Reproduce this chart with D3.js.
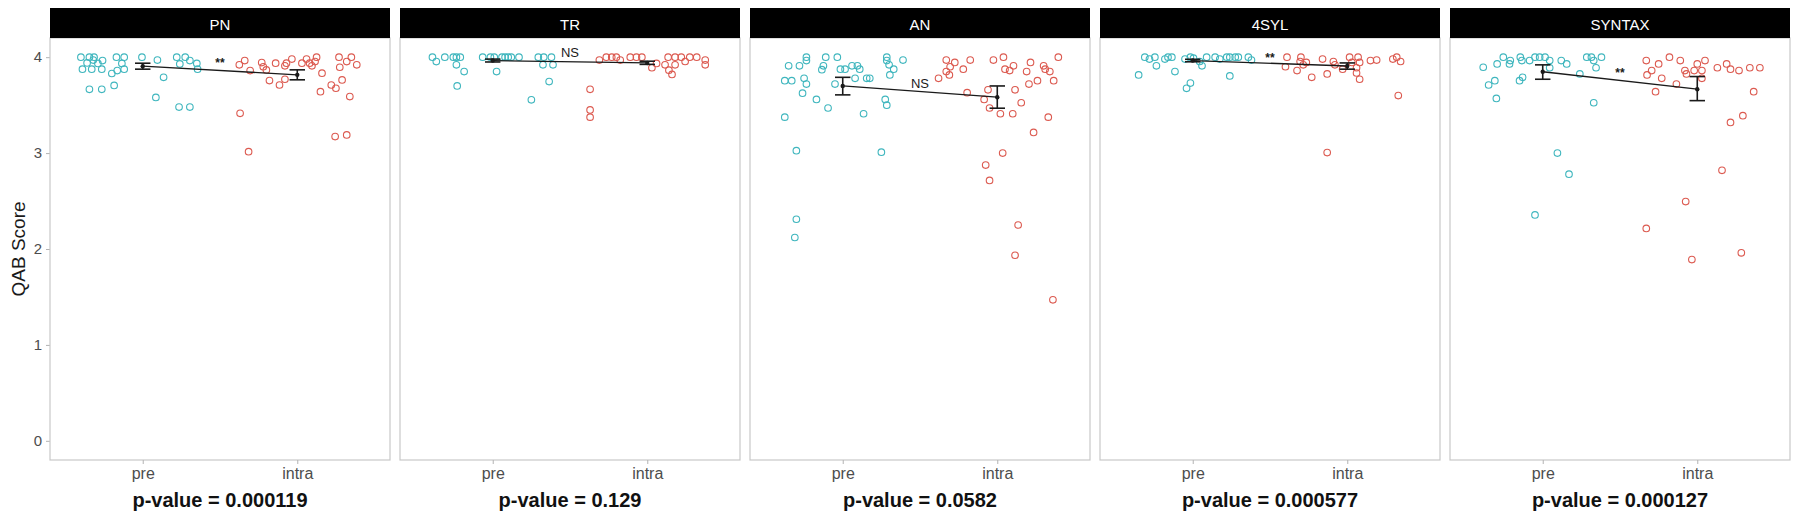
<!DOCTYPE html>
<html>
<head>
<meta charset="utf-8">
<script src="https://cdn.jsdelivr.net/npm/d3@7"></script>
<style>
  body { margin: 0; background: #ffffff; }
  svg { display: block; font-family: "Liberation Sans", Arial, Helvetica, sans-serif; }
</style>
</head>
<body>
<svg id="chart" width="1800" height="520"></svg>
<script>
// ---------------- data ----------------
const facets = ["PN", "TR", "AN", "4SYL", "SYNTAX"];
const groups = ["pre", "intra"];
const yTicks = [0, 1, 2, 3, 4];
const pValueLabels = ["p-value = 0.000119", "p-value = 0.129", "p-value = 0.0582", "p-value = 0.000577", "p-value = 0.000127"];
const sigLabels = ["**", "NS", "NS", "**", "**"];
const sigLabelY = [3.936, 4.05, 3.73, 3.996, 3.833];

const preMean  = [3.906, 3.965, 3.700, 3.965, 3.848];
const preLow   = [3.875, 3.950, 3.607, 3.952, 3.770];
const preHigh  = [3.937, 3.980, 3.790, 3.978, 3.920];
const intraMean = [3.816, 3.940, 3.583, 3.908, 3.666];
const intraLow  = [3.764, 3.925, 3.468, 3.875, 3.547];
const intraHigh = [3.868, 3.958, 3.700, 3.940, 3.798];

// [jitter (category units), QAB score]
const pnPre = [[-0.40,4.00],[-0.345,4.00],[-0.315,4.00],[-0.26,3.965],[-0.39,3.875],[-0.33,3.875],[-0.265,3.875],[-0.20,3.83],[-0.165,3.86],[-0.12,3.875],[-0.17,4.00],[-0.12,4.00],[-0.135,3.935],[-0.345,3.665],[-0.265,3.665],[-0.185,3.705],[-0.005,4.00],[0.095,3.97],[0.135,3.79],[0.085,3.58],[0.22,4.00],[0.275,4.00],[0.24,3.93],[0.305,3.965],[0.35,3.935],[0.355,3.875],[0.235,3.48],[0.305,3.48],[-0.29,3.935],[-0.36,3.94],[-0.32,3.97]];
const pnIntra = [[-0.375,3.92],[-0.34,3.965],[-0.305,3.86],[-0.37,3.415],[-0.315,3.015],[-0.23,3.944],[-0.22,3.90],[-0.18,3.756],[-0.20,3.867],[-0.14,3.937],[-0.115,3.71],[-0.08,3.77],[-0.07,3.937],[-0.035,3.98],[0.03,3.937],[0.06,3.98],[0.095,3.91],[0.125,4.00],[0.115,3.954],[0.16,3.833],[0.15,3.64],[0.22,3.71],[0.25,3.676],[0.29,3.763],[0.245,3.172],[0.32,3.189],[0.27,4.00],[0.35,4.00],[0.385,3.92],[0.34,3.589],[0.32,3.954],[0.275,3.895],[0.08,3.937],[-0.08,3.91]];
const trPre = [[-0.39,4.0],[-0.365,3.954],[-0.31,4.0],[-0.255,4.0],[-0.235,4.0],[-0.21,4.0],[-0.235,3.92],[-0.185,3.85],[-0.23,3.70],[-0.065,4.0],[-0.015,4.0],[0.01,4.0],[0.06,4.0],[0.10,4.0],[0.17,4.0],[0.025,3.85],[0.295,4.0],[0.33,4.0],[0.38,4.0],[0.325,3.92],[0.39,3.92],[0.365,3.746],[0.25,3.555],[0.08,4.0],[0.12,4.0]];
const trIntra = [[-0.31,3.97],[-0.265,4.0],[-0.23,4.0],[-0.20,4.0],[-0.175,3.97],[-0.11,4.0],[-0.07,4.0],[-0.035,4.0],[-0.37,3.665],[-0.37,3.45],[-0.37,3.375],[0.03,3.89],[0.06,3.935],[0.115,3.92],[0.135,4.0],[0.18,4.0],[0.22,4.0],[0.245,3.955],[0.275,4.0],[0.32,4.0],[0.375,3.97],[0.375,3.92],[0.14,3.865],[0.16,3.82],[0.18,3.92]];
const anPre = [[-0.35,3.91],[-0.28,3.91],[-0.235,4.0],[-0.235,3.965],[-0.11,4.0],[-0.035,4.0],[-0.125,3.91],[-0.135,3.87],[-0.015,3.875],[0.015,3.875],[0.06,3.91],[0.095,3.91],[0.11,3.875],[0.285,4.0],[0.285,3.965],[0.39,3.97],[0.30,3.92],[0.33,3.875],[0.305,3.815],[-0.375,3.755],[-0.33,3.755],[-0.25,3.78],[-0.235,3.72],[-0.26,3.625],[-0.17,3.56],[-0.095,3.47],[-0.05,3.72],[0.08,3.78],[0.155,3.78],[0.175,3.78],[0.275,3.56],[0.285,3.50],[0.135,3.41],[-0.375,3.375],[-0.30,3.025],[0.25,3.01],[-0.30,2.31],[-0.31,2.12]];
const anIntra = [[-0.33,3.97],[-0.305,3.90],[-0.275,3.945],[-0.33,3.85],[-0.31,3.815],[-0.38,3.78],[-0.22,3.875],[-0.175,3.97],[-0.025,3.97],[0.04,4.0],[0.05,3.875],[0.105,3.91],[0.08,3.86],[0.19,3.85],[0.215,3.945],[0.30,3.91],[0.31,3.875],[0.34,3.85],[0.395,4.0],[0.365,3.755],[0.26,3.755],[0.205,3.72],[0.115,3.66],[-0.06,3.66],[-0.195,3.63],[-0.085,3.56],[-0.05,3.47],[0.02,3.41],[0.10,3.41],[0.155,3.525],[0.33,3.375],[0.235,3.215],[0.035,3.0],[-0.075,2.875],[-0.05,2.715],[0.135,2.25],[0.115,1.935],[0.36,1.47]];
const sylPre = [[-0.31,4.0],[-0.28,3.98],[-0.245,4.0],[-0.235,3.91],[-0.18,3.98],[-0.16,4.0],[-0.135,4.0],[-0.35,3.815],[-0.115,3.85],[-0.05,3.98],[-0.015,4.0],[0.005,3.99],[0.06,3.91],[0.045,3.955],[0.09,4.0],[0.145,4.0],[0.175,3.98],[0.22,4.0],[0.24,4.0],[0.275,4.0],[0.295,4.0],[0.36,4.0],[0.38,3.97],[0.24,3.805],[-0.04,3.675],[-0.015,3.73]];
const sylIntra = [[-0.39,4.0],[-0.40,3.90],[-0.30,4.0],[-0.305,3.955],[-0.325,3.86],[-0.285,3.92],[-0.265,3.945],[-0.23,3.79],[-0.16,3.98],[-0.13,3.825],[-0.09,3.955],[-0.08,3.92],[-0.03,3.875],[0.015,4.0],[0.07,4.0],[0.03,3.945],[0.08,3.945],[0.06,3.835],[0.08,3.77],[0.06,3.89],[0.15,3.965],[0.19,3.97],[0.295,3.98],[0.32,4.0],[0.345,3.955],[0.33,3.60],[-0.13,3.005]];
const synPre = [[-0.385,3.895],[-0.35,3.71],[-0.31,3.755],[-0.30,3.57],[-0.295,3.93],[-0.255,4.0],[-0.215,3.93],[-0.21,3.965],[-0.145,4.0],[-0.135,3.965],[-0.15,3.755],[-0.13,3.79],[-0.085,3.965],[-0.05,4.0],[-0.02,4.0],[0.015,4.0],[0.045,3.965],[0.045,3.89],[0.12,3.965],[0.155,3.93],[0.24,3.825],[0.285,4.0],[0.315,4.0],[0.33,3.965],[0.38,4.0],[0.345,3.89],[0.33,3.525],[0.095,3.0],[0.17,2.78],[-0.05,2.355]];
const synIntra = [[-0.33,3.965],[-0.325,3.815],[-0.295,3.86],[-0.25,3.93],[-0.18,4.0],[-0.23,3.78],[-0.27,3.64],[-0.135,3.72],[-0.11,3.965],[-0.08,3.86],[-0.07,3.825],[-0.02,3.86],[0.0,3.93],[0.03,3.86],[0.05,3.965],[0.03,3.78],[0.13,3.89],[0.19,3.93],[0.215,3.875],[0.27,3.86],[0.34,3.89],[0.405,3.89],[0.365,3.64],[0.215,3.32],[0.295,3.39],[0.16,2.82],[-0.075,2.495],[-0.33,2.215],[-0.035,1.89],[0.285,1.96]];

const prePoints = [pnPre, trPre, anPre, sylPre, synPre];
const intraPoints = [pnIntra, trIntra, anIntra, sylIntra, synIntra];

// ---------------- drawing ----------------
const svg = d3.select("#chart");
const colors = { pre: "#3fb6be", intra: "#dc5a50" };

const plotTop = 38, plotBottom = 460, stripTop = 8;
const facetScale = d3.scaleBand().domain(facets).range([50, 1790]).paddingInner(10 / 350).paddingOuter(0);
const y = d3.scaleLinear().domain([-0.2, 4.2]).range([plotBottom, plotTop]);
const x = d3.scalePoint().domain(groups).range([0, facetScale.bandwidth()]).padding(0.6);
const step = x.step();

// y axis title
svg.append("text")
  .attr("transform", `translate(18,${(plotTop + plotBottom) / 2}) rotate(-90)`)
  .attr("text-anchor", "middle").attr("dominant-baseline", "central")
  .attr("font-size", 19).attr("fill", "#1a1a1a").text("QAB Score");

// y axis on first panel
const yAxisG = svg.append("g").attr("transform", `translate(${facetScale(facets[0])},0)`)
  .call(d3.axisLeft(y).tickValues(yTicks).tickFormat(d3.format("d")).tickSize(4).tickPadding(4));
yAxisG.select(".domain").remove();
yAxisG.selectAll(".tick line").attr("stroke", "#b3b3b3");
yAxisG.selectAll(".tick text").attr("font-size", 15).attr("fill", "#4d4d4d").attr("font-family", "Liberation Sans, Arial, sans-serif");

facets.forEach((f, i) => {
  const g = svg.append("g").attr("transform", `translate(${facetScale(f)},0)`);
  const w = facetScale.bandwidth();

  // panel background/border
  g.append("rect").attr("x", 0).attr("y", plotTop).attr("width", w).attr("height", plotBottom - plotTop)
    .attr("fill", "#ffffff").attr("stroke", "#c8c8c8").attr("stroke-width", 1.2);

  // strip
  g.append("rect").attr("x", 0).attr("y", stripTop).attr("width", w).attr("height", plotTop - stripTop)
    .attr("fill", "#000000");
  g.append("text").attr("x", w / 2).attr("y", (stripTop + plotTop) / 2 + 1)
    .attr("text-anchor", "middle").attr("dominant-baseline", "central")
    .attr("font-size", 15).attr("fill", "#ffffff").text(f);

  // x axis
  const xAxisG = g.append("g").attr("transform", `translate(0,${plotBottom})`)
    .call(d3.axisBottom(x).tickSize(4).tickPadding(4));
  xAxisG.select(".domain").remove();
  xAxisG.selectAll(".tick line").attr("stroke", "#b3b3b3");
  xAxisG.selectAll(".tick text").attr("font-size", 16).attr("fill", "#4d4d4d").attr("font-family", "Liberation Sans, Arial, sans-serif");

  // p-value caption
  g.append("text").attr("x", w / 2).attr("y", 507)
    .attr("text-anchor", "middle").attr("font-size", 20).attr("font-weight", "bold")
    .attr("fill", "#111111").text(pValueLabels[i]);

  // jittered points
  const pts = [];
  prePoints[i].forEach(d => pts.push({ g: "pre", j: d[0], v: d[1] }));
  intraPoints[i].forEach(d => pts.push({ g: "intra", j: d[0], v: d[1] }));
  g.selectAll("circle.pt").data(pts).enter().append("circle").attr("class", "pt")
    .attr("cx", d => x(d.g) + d.j * step)
    .attr("cy", d => y(d.v))
    .attr("r", 3.3)
    .attr("fill", "none")
    .attr("stroke", d => colors[d.g])
    .attr("stroke-width", 1.1);

  // summary: means, error bars, connecting line
  const summ = [
    { g: "pre", m: preMean[i], lo: preLow[i], hi: preHigh[i] },
    { g: "intra", m: intraMean[i], lo: intraLow[i], hi: intraHigh[i] }
  ];
  const capHalf = 0.05 * step;
  summ.forEach(s => {
    const cx = x(s.g);
    g.append("line").attr("x1", cx).attr("x2", cx).attr("y1", y(s.lo)).attr("y2", y(s.hi))
      .attr("stroke", "#1a1a1a").attr("stroke-width", 1.6);
    [s.lo, s.hi].forEach(v => {
      g.append("line").attr("x1", cx - capHalf).attr("x2", cx + capHalf).attr("y1", y(v)).attr("y2", y(v))
        .attr("stroke", "#1a1a1a").attr("stroke-width", 1.6);
    });
  });
  g.append("path").datum(summ)
    .attr("d", d3.line().x(d => x(d.g)).y(d => y(d.m)))
    .attr("fill", "none").attr("stroke", "#1a1a1a").attr("stroke-width", 1.3);
  g.selectAll("circle.mean").data(summ).enter().append("circle").attr("class", "mean")
    .attr("cx", d => x(d.g)).attr("cy", d => y(d.m)).attr("r", 2.2)
    .attr("fill", "#1a1a1a");

  // significance label
  const midX = (x("pre") + x("intra")) / 2;
  g.append("text").attr("x", midX).attr("y", y(sigLabelY[i]))
    .attr("text-anchor", "middle").attr("dominant-baseline", "central")
    .attr("font-size", sigLabels[i] === "NS" ? 13 : 12).attr("font-weight", sigLabels[i] === "NS" ? "normal" : "bold")
    .attr("fill", "#1a1a1a").text(sigLabels[i]);
});
</script>
</body>
</html>
